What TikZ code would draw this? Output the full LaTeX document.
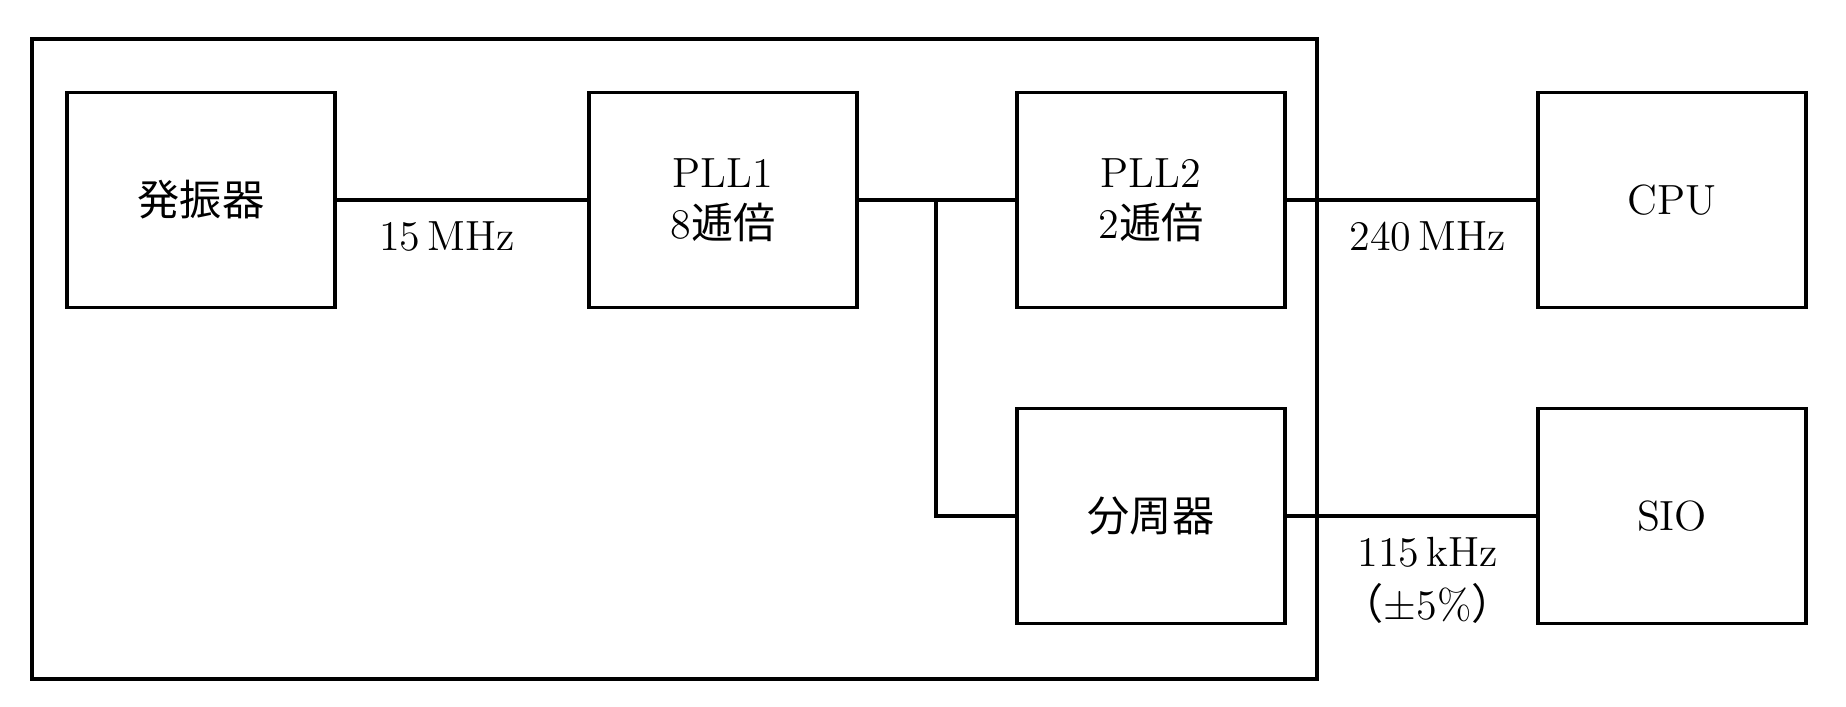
\documentclass[tikz,border=0pt]{standalone}
\usepackage{fontspec}
\newfontfamily\jp{Noto Sans CJK JP}
\usetikzlibrary{positioning,calc}

\begin{document}
\begin{tikzpicture}[x=0.1mm, y=-0.1mm, line width=0.9pt,
    blk/.style={draw, rectangle, minimum width=26.8mm, minimum height=21.5mm, inner sep=0pt, align=center, font=\fontsize{12}{14.5}\selectfont},
    lbl/.style={inner sep=0pt, align=center, font=\fontsize{12}{15}\selectfont}]
    \useasboundingbox (0,0) rectangle (1846,706);

    % outer board
    \node[draw, rectangle, minimum width=128.5mm, minimum height=64mm] (board) at (674.5,359) {};

    \node[blk] (osc) at (201,200) {\jp 発振器};
    \node[blk] (pllA) at (723,200) {PLL1\\8{\jp 逓倍}};
    \node[blk] (pllB) at (1151,200) {PLL2\\2{\jp 逓倍}};
    \node[blk] (div) at (1151,516) {\jp 分周器};
    \node[blk] (cpu) at (1672,200) {CPU};
    \node[blk] (sio) at (1672,516) {SIO};

    \draw (osc) -- (pllA) node[lbl, midway, below=2mm, xshift=-1.5mm] {15\,MHz};
    \draw (pllA) -- (pllB);
    \draw (pllB) -- (cpu) node[lbl, midway, below=2mm, xshift=1.6mm] {240\,MHz};
    \draw (div) -- (sio) node[lbl, midway, below=2mm, xshift=1.6mm] {115\,kHz\\{\jp （}$\pm$5\%{\jp ）}};

    % branch to divider
    \coordinate (jn) at (936,200);
    \draw (jn) |- (div.west);
\end{tikzpicture}
\end{document}
